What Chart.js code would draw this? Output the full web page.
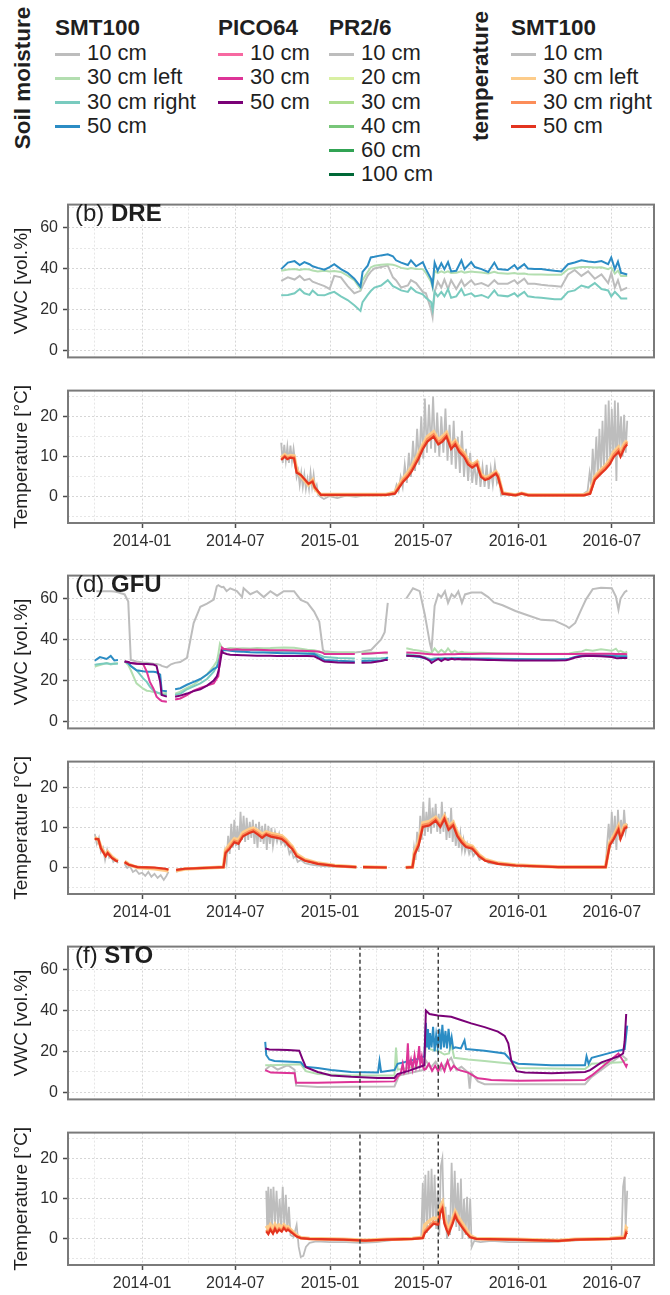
<!DOCTYPE html>
<html lang="en">
<head>
<meta charset="UTF-8">
<script src="https://cdn.jsdelivr.net/npm/chart.js"></script>
<title>Soil moisture and soil temperature</title>
<style>
  body { margin: 0; background: #fff; font-family: "Liberation Sans", Arial, Helvetica, sans-serif; }
  #fig { position: relative; width: 670px; height: 1295px; overflow: hidden; background: #fff; }
  #fig canvas { position: absolute; left: 0; }
  .txt { position: absolute; white-space: nowrap; color: #1f1f1f; }
  .key { position: absolute; width: 25px; height: 3px; }
  .rot { position: absolute; white-space: nowrap; font-weight: bold; font-size: 22.5px; line-height: 22px;
         color: #1f1f1f; transform: translate(-50%, -50%) rotate(-90deg); }
</style>
</head>
<body>
<div id="fig"></div>
<script>
// ---- colours ----
const colSmt = ['#bdbdbd', '#b3deb0', '#79cbbf', '#2b8cc4'];
const colPico = ['#f768a1', '#dd3497', '#7a0177'];
const colPr = ['#bdbdbd', '#d9f0a3', '#addd8e', '#78c679', '#31a354', '#006837'];
const colTemp = ['#bdbdbd', '#fdcc8a', '#fc8d59', '#e3341f'];

// ---- axis ticks ----
const xTickDates = ['2013-10-01', '2014-01-01', '2014-04-01', '2014-07-01', '2014-10-01', '2015-01-01',
  '2015-04-01', '2015-07-01', '2015-10-01', '2016-01-01', '2016-04-01', '2016-07-01'];
const vwcTicks = [0, 10, 20, 30, 40, 50, 60, 70];
const vwcLabelled = [0, 20, 40, 60];
const tempTicks = [-5, 0, 5, 10, 15, 20, 25];
const tempLabelled = [0, 10, 20];

// ---- (b) DRE, soil moisture ----
const dreDates = ['2014-09-28','2014-10-11','2014-10-24','2014-11-03','2014-11-12','2014-11-22','2014-11-28','2014-12-08','2014-12-21','2014-12-31',
  '2015-01-09','2015-01-22','2015-02-04','2015-02-17','2015-03-01','2015-03-05','2015-03-15','2015-03-21','2015-03-28','2015-04-10',
  '2015-04-23','2015-05-03','2015-05-09','2015-05-19','2015-06-01','2015-06-07','2015-06-17','2015-06-30','2015-07-06','2015-07-16',
  '2015-07-19','2015-07-23','2015-07-29','2015-08-05','2015-08-11','2015-08-18','2015-08-24','2015-09-03','2015-09-13','2015-09-19',
  '2015-10-02','2015-10-09','2015-10-22','2015-11-04','2015-11-16','2015-11-23','2015-12-12','2015-12-25','2015-12-31','2016-01-13',
  '2016-01-20','2016-02-02','2016-02-15','2016-02-28','2016-03-12','2016-03-25','2016-04-07','2016-04-20','2016-05-03','2016-05-16',
  '2016-05-29','2016-06-11','2016-06-24','2016-06-30','2016-07-07','2016-07-13','2016-07-19','2016-07-31'];
const dreSmt10 = [34,35.7,34.6,36.4,34.3,35,33.6,32.6,31.4,30, 36.4,35.7,31.4,27.9,29.1,31.4,36.4,38.5,40,40.7,
  41.4,35.7,34.3,30.7,31.7,34.3,32.9,28.6,27.9,20, 16.4,28.6,33.6,30.7,34.6,30,34.3,30,34.3,31.4,
  34.3,32.1,32.9,31.4,34.3,32.6,32.6,34.3,32.6,35, 32.6,32.6,32.1,31.7,31.4,31.1,37.1,39.3,36.4,38.6,
  35,37.1,32.9,37.9,30.7,34.3,29.3,30.7];
const dreSmt30L = [38.9,39.5,39.8,39.3,39.7,39.5,39,38.6,38.9,38.6, 38.8,38.3,36.5,34.3,30,34.3,38.3,40.5,41.4,41.8,
  42.1,41.8,41.4,40.3,39.8,40.2,39.8,39.7,37.9,33.5, 30.7,38.9,37.8,38.6,38,38.6,37.8,37.9,38.6,38,
  38.5,38.3,38,37.6,38.4,37.8,37.4,37.8,37.4,37.6, 37.2,37.1,37.1,37,36.9,36.9,39.7,40.2,40.7,40.7,
  40.5,40.6,39.7,40.5,37.5,39,36.4,36.4];
const dreSmt30R = [26.9,27.1,27.9,30,27.9,27.1,29.3,27.1,26.9,27.9, 28.6,26.4,24.6,22.1,19.3,23.6,27.1,29,30.7,31.7,
  34.3,31.4,30.7,29.3,28.6,30.7,28.6,27.4,25.7,23.6, 20,28.6,26.4,28.6,26.4,30,25.7,26.4,30,26.9,
  27.9,26.4,27.1,25.7,29.3,26.9,26.4,27.9,26.4,28.6, 26.4,26,25.7,25.4,25,25,28.6,29.3,31.7,30.7,
  32.9,30,29.3,26.4,28.6,27.1,25.4,25.4];
const dreSmt50 = [39.7,42.9,43.6,41.7,43.1,42.1,41.1,40.3,39.4,40.7, 42.1,39.7,37.9,35,31.1,38.3,41.4,45.4,45.7,46.4,
  46.9,46,44,42.9,41.7,44,41.1,43.1,39.7,35, 31.7,42.9,38.9,42.6,39.7,43.1,38.6,38.9,44,39.7,
  43.1,40.7,39.7,38.3,42.9,39.7,39.3,41.7,39.7,42.1, 40,39.7,39.7,39.3,38.9,38.6,42.1,42.9,44,43.4,
  43.1,43.6,42.1,45.4,39.7,43.4,37.9,37.1];

// ---- (b) DRE, soil temperature ----
const dreTempDates = ['2014-09-28','2014-10-05','2014-10-10','2014-10-16','2014-10-23','2014-10-28','2014-11-05','2014-11-12','2014-11-20','2014-11-28',
  '2014-12-02','2014-12-08','2014-12-14','2015-01-27','2015-03-10','2015-04-20','2015-05-07','2015-05-15','2015-05-23','2015-06-01',
  '2015-06-09','2015-06-22','2015-06-30','2015-07-09','2015-07-21','2015-07-30','2015-08-07','2015-08-15','2015-08-24','2015-09-01',
  '2015-09-09','2015-09-18','2015-09-26','2015-10-04','2015-10-13','2015-10-21','2015-10-29','2015-11-06','2015-11-19','2015-11-23',
  '2015-12-02','2015-12-27','2016-01-08','2016-01-21','2016-03-19','2016-05-08','2016-05-20','2016-05-29','2016-06-10','2016-06-19',
  '2016-06-27','2016-07-05','2016-07-14','2016-07-18','2016-07-26','2016-07-31'];
const dreT30L = [9.8,10.5,10,10.3,10.2,6.8,5.2,4.2,3,4.2, 2.2,1.2,0.6,0.6,0.6,0.6,1.2,3,4.6,6,
  7.6,10.8,13,15,16.2,14.2,15,16,13,14, 12.2,11,9,8,8.8,5.6,4.8,5.2,6.3,5.4,
  1,0.5,0.9,0.5,0.5,0.5,1.2,5,6.8,7.8, 9.2,11.2,12.4,11.2,13.4,14];
const dreT30R = [9.4,10.2,9.7,10,9.9,6.3,5.4,4.4,3.2,4, 2.4,1.4,0.5,0.5,0.5,0.5,1,2.6,4.2,5.5,
  7,10.2,12.4,14.4,15.6,13.6,14.4,15.5,12.4,13.6, 11.7,10.5,8.6,7.7,8.5,5.3,4.5,4.9,6,5.2,
  0.9,0.5,0.9,0.5,0.5,0.5,1,4.6,6.3,7.4, 8.6,10.6,11.8,10.6,12.8,13.6];
const dreT50 = [9.2,10,9.4,9.8,9.6,6,5.5,4.5,3.3,3.8, 2.5,1.5,0.5,0.5,0.5,0.5,0.8,2.3,3.8,5,
  6.5,9.6,11.9,13.8,15,13.1,13.8,15,11.9,13.1, 11.2,10,8.1,7.3,8.1,5,4.2,4.6,5.8,5,
  0.8,0.4,0.8,0.4,0.4,0.4,0.8,4.2,5.8,6.9, 8.1,10,11.2,10,12.3,13.1];
const dreT10 = [['2014-09-28',13.5],['2014-10-01',8.5],['2014-10-04',13],['2014-10-07',9],['2014-10-10',12.5],['2014-10-13',8.5],
  ['2014-10-16',12.8],['2014-10-19',9],['2014-10-22',12],['2014-10-25',8.8],['2014-10-28',5],['2014-10-31',6.5],['2014-11-03',3],
  ['2014-11-06',6],['2014-11-09',2.5],['2014-11-12',5.5],['2014-11-15',2],['2014-11-18',4.5],['2014-11-21',2],['2014-11-24',6],
  ['2014-11-27',2.5],['2014-11-30',5.5],['2014-12-03',2],['2014-12-06',3],['2014-12-09',0.5],['2014-12-14',0],['2014-12-20',-0.5],
  ['2014-12-30',0.2],['2015-01-15',-0.3],['2015-02-01',0.3],['2015-02-20',0],['2015-03-10',0.4],['2015-04-01',0.3],['2015-04-20',0.5],
  ['2015-05-05',0.6],['2015-05-10',3],['2015-05-14',1.5],['2015-05-18',5],['2015-05-22',2.5],['2015-05-26',8],['2015-05-30',3.5],
  ['2015-06-03',11],['2015-06-07',5],['2015-06-11',14],['2015-06-15',6.5],['2015-06-19',17],['2015-06-23',8],['2015-06-27',20],
  ['2015-07-01',9.5],['2015-07-04',24.5],['2015-07-08',11],['2015-07-12',23],['2015-07-16',12],['2015-07-20',25],['2015-07-24',11],
  ['2015-07-28',21],['2015-08-01',10],['2015-08-05',20],['2015-08-09',11],['2015-08-13',22],['2015-08-17',9],['2015-08-21',18],
  ['2015-08-25',8],['2015-08-29',19],['2015-09-02',7],['2015-09-06',15],['2015-09-10',6],['2015-09-14',16.5],['2015-09-18',5],
  ['2015-09-22',12],['2015-09-26',4],['2015-09-30',11],['2015-10-04',3.5],['2015-10-08',8.5],['2015-10-12',3],['2015-10-16',9],
  ['2015-10-20',2.5],['2015-10-24',7.5],['2015-10-28',2.5],['2015-11-01',8],['2015-11-05',2],['2015-11-09',7],['2015-11-13',3],
  ['2015-11-17',8],['2015-11-21',3.5],['2015-11-25',5],['2015-11-29',0.5],['2015-12-05',0.6],['2016-01-10',0.8],['2016-02-01',0.4],
  ['2016-03-15',0.5],['2016-05-05',0.6],['2016-05-15',1.5],['2016-05-19',6],['2016-05-22',3],['2016-05-25',12],['2016-05-28',4],
  ['2016-06-01',15],['2016-06-04',5],['2016-06-07',17],['2016-06-10',6],['2016-06-13',19],['2016-06-16',6.5],['2016-06-19',23],
  ['2016-06-22',8],['2016-06-25',24],['2016-06-28',9],['2016-07-01',22],['2016-07-04',9.5],['2016-07-07',24],['2016-07-10',4],
  ['2016-07-13',23.5],['2016-07-16',12],['2016-07-19',20],['2016-07-22',10],['2016-07-25',20.5],['2016-07-28',11],['2016-07-31',19]];

// ---- (d) GFU, soil moisture ----
const gfuDates = ['2013-10-01','2013-10-04','2013-10-11','2013-10-24','2013-11-01','2013-11-08','2013-11-15','2013-11-22','2013-11-28','2013-12-05',
  '2013-12-10','2013-12-21','2014-01-03','2014-01-10','2014-01-16','2014-01-23','2014-01-29','2014-02-05','2014-02-08','2014-02-18',
  '2014-02-26','2014-03-06','2014-03-16','2014-03-29','2014-04-11','2014-04-24','2014-05-07','2014-05-20','2014-05-26','2014-05-29',
  '2014-06-01','2014-06-05','2014-06-08','2014-06-14','2014-06-21','2014-07-04','2014-07-14','2014-07-17','2014-07-30','2014-08-12',
  '2014-08-25','2014-09-07','2014-09-20','2014-10-03','2014-10-23','2014-11-05','2014-11-18','2014-12-01','2014-12-11','2014-12-18',
  '2014-12-21','2015-01-16','2015-02-18','2015-02-22','2015-03-03','2015-03-22','2015-04-10','2015-04-17','2015-04-23','2015-05-06',
  '2015-05-29','2015-06-11','2015-06-24','2015-07-04','2015-07-14','2015-07-17','2015-07-23','2015-07-30','2015-08-05','2015-08-12',
  '2015-08-18','2015-08-25','2015-08-31','2015-09-07','2015-09-14','2015-09-20','2015-10-03','2015-10-22','2015-11-04','2015-11-15',
  '2015-12-02','2015-12-27','2016-01-21','2016-02-15','2016-03-11','2016-04-03','2016-04-09','2016-04-21','2016-05-04','2016-05-12',
  '2016-05-25','2016-06-10','2016-07-01','2016-07-09','2016-07-14','2016-07-18','2016-07-26','2016-07-31'];
const gfuSmt10 = [null,63.5,63.5,63.5,63.5,63.4,63,62.5,62,58.5, 30,29.3,28.8,28.6,28.4,28.2,28.1,27.6,27.1,26.4,
  27.9,28.6,29,31,48,56,57.5,59.5,66,66.5, 66,65.5,65.7,63.6,65,63.6,60.7,65,62.1,63.6,
  60.7,63.6,61.4,63.6,63.6,59.3,57.9,53.6,48.6,35, 34.3,33.6,33.6,33.8,34,35,40,43.6,57.9,null,
  60,65,63.6,52.1,37.9,35,56.4,62.1,60.7,63.6, 57.9,62.1,60.7,63.5,57.9,62,62.9,62.9,60.7,58.1,
  56.7,53.9,51.7,49.6,49.3,46.7,45.6,48.1,55.3,59.6, 64.6,65.3,65,61,54.6,60,63.1,64];
const gfuSmt30L = [26.7,27,27.5,28.5,27.8,28.2,28.6,null,29.3,27.5, 25,18.6,16,15,14.8,14.3,14,13.6,13.6,13.9,
  null,13.6,14.5,16.4,18,20.5,23,27,29.3,33, 37.9,36,35.3,35.5,35.8,35.6,35.7,35.7,35.6,35.8,
  35.7,35.8,36,36.1,36,35.5,35,34.7,34.2,33.8, 33.6,33.6,33.6,null,33.6,33.6,33.4,33.3,33.2,null,
  35.7,35,34.5,34,33.5,33.5,35.7,33.5,35,33.5, 35.7,33.5,34.5,33.5,34,33.6,33.5,33.5,33.4,33.3,
  33.2,33.1,33,33,33,33.1,33.2,33.8,34.2,35, 34.5,35.2,34.5,35.5,34,34.5,33.5,34];
const gfuSmt30R = [27.6,27.8,28,28.4,28,28.3,28.1,null,29.3,28.5, 27,25,21,19.3,17,15,14.3,13.6,12.9,13,
  null,12.9,13.5,15.7,17.1,18.6,20.7,24.3,27,29.3, 32,35.7,35.5,35.3,35,34.9,34.8,34.8,34.8,34.7,
  34.6,34.5,34.4,34.3,34.3,34.2,34,33.4,32.5,31.8, 31.4,31,30.7,null,30.7,30.7,30.8,31,31,null,
  32.9,32.5,32,31.4,30.5,30.5,30.8,31,31,31, 31,31,31,31,31,31,30.9,30.8,30.8,30.7,
  30.6,30.5,30.5,30.4,30.4,30.5,30.6,31.5,32,32.2, 32.3,32.3,32.3,32.2,32,32,32,32];
const gfuSmt50 = [29.6,30.2,31.4,30.5,32,29.8,30,null,29.3,28.5, 27.1,25,24.5,24.3,24.3,24.3,24,22.9,15,14.7,
  null,15.7,16.2,17.9,19.3,20.7,22.9,25.7,26.4,28, 30.7,35,34.8,34.7,34.5,34.2,34,34,33.8,33.7,
  33.6,33.5,33.4,33.3,33.3,33.2,33,32.9,31.4,30.5, 30,29.6,29.3,null,29.5,29.6,29.6,30,31.4,null,
  32.1,31.8,31.4,30.8,30,30,30.3,30.5,30.5,30.6, 30.6,30.7,30.7,30.7,30.7,30.7,30.6,30.5,30.5,30.4,
  30.4,30.3,30.2,30.2,30.2,30.3,30.5,31.5,32.2,32.4, 32.4,32.2,32,31.8,31.7,31.7,31.7,31.7];
const gfuPico30 = [null,null,null,null,null,null,null,null,29.3,29, 28.5,28.3,28,24.3,19.3,16,12.1,10.5,10,9.6,
  null,10.7,11.2,12.9,15,16.4,17.5,18.6,21,22.1, 30.7,36.1,35.5,35.2,35,35.2,35,35,35,35,
  34.9,34.8,34.8,34.7,34.6,34.5,34.4,34.3,34,33.5, 32.9,32.9,32.9,null,32.9,33.2,33.5,33.6,33.6,null,
  33.6,33.5,33.3,33,32.8,32.8,32.7,32.7,32.7,32.8, 32.8,32.8,32.8,32.9,32.9,32.9,32.9,33,33,33,
  33,33,32.9,32.9,32.9,32.9,32.9,32.9,33,33, 33,33,33,32.9,32.9,32.9,32.9,32.8];
const gfuPico50 = [null,null,null,null,null,null,null,null,29.3,29, 28.5,28.2,28,28,27.9,27.8,27.1,19.3,12.9,12.1,
  null,12.1,12.6,13.6,14.8,15.7,17.5,20,22,24.3, 28,34.3,33.5,32.9,32.6,32.4,32.3,32.3,32.2,32.1,
  32.1,32.1,32,32,32,32,31.9,31.8,30.5,29.6, 29.3,28.8,28.6,null,28.6,28.8,29.5,30,30,null,
  32.1,32,31.8,31,29.5,28.6,29.5,30.5,29.5,30.5, 30,30.6,30.3,30.5,30.2,30.3,30.2,30.1,30,30,
  29.9,29.8,29.8,29.8,29.8,29.9,30.2,31.2,31.8,32, 32,31.8,31.5,31,30.8,31,31,31];

// ---- (d) GFU, soil temperature ----
const gfuTempDates = ['2013-10-01','2013-10-08','2013-10-13','2013-10-22','2013-10-26','2013-11-03','2013-11-11','2013-11-15','2013-11-21','2013-11-28',
  '2013-12-06','2013-12-23','2014-01-25','2014-02-15','2014-02-21','2014-03-01','2014-03-08','2014-03-25','2014-05-22','2014-06-08',
  '2014-06-12','2014-06-20','2014-06-29','2014-07-07','2014-07-16','2014-07-28','2014-08-05','2014-08-14','2014-08-22','2014-08-30',
  '2014-09-08','2014-09-20','2014-09-29','2014-10-07','2014-10-15','2014-10-19','2014-10-28','2014-11-13','2014-12-08','2015-01-10',
  '2015-02-21','2015-02-25','2015-03-06','2015-04-21','2015-05-10','2015-05-28','2015-06-10','2015-06-14','2015-06-22','2015-06-30',
  '2015-07-13','2015-07-25','2015-08-03','2015-08-11','2015-08-19','2015-08-28','2015-09-05','2015-09-13','2015-09-22','2015-10-04',
  '2015-10-17','2015-10-29','2015-11-23','2015-12-27','2016-03-19','2016-06-19','2016-06-27','2016-07-05','2016-07-14','2016-07-18',
  '2016-07-26','2016-07-31'];
const gfuT30L = [7.6,7,5.2,3.2,4,2.8,2,1.8,null,1.6, 0.9,0.1,-0.2,-0.6,-0.8,null,-0.7,-0.3,0.1,0.2,
  4.4,5.8,7.2,7,8.8,9.6,9.9,9.2,8.4,9, 8.6,8.3,8,7.1,5.9,5.4,3.4,2.1,1.2,0.6,
  0.2,null,0.2,0.1,null,0.1,0.2,4,6.5,11.2, 11.6,12.6,11.2,12.9,10.4,11.4,8.7,7.2,5.9,5.4,
  3.3,2.1,1.2,0.7,0.2,0.2,6.3,8,10.4,8, 10.6,10.8];
const gfuT30R = [7.4,7.1,5,3,3.8,2.6,1.9,1.7,null,1.5, 0.8,0.2,0,-0.3,-0.5,null,-0.6,-0.2,0.1,0.2,
  4,5.2,6.8,6.5,8.3,9.1,9.5,8.7,7.9,8.6, 8.2,7.9,7.6,6.8,5.5,5.1,3.1,1.9,1.1,0.5,
  0.2,null,0.2,0.1,null,0.1,0.2,3.6,6,10.7, 11.1,12.2,10.7,12.6,10,11,8.3,6.8,5.5,5.1,
  3.1,1.9,1.1,0.6,0.2,0.2,6,7.6,10,7.6, 10.2,10.5];
const gfuT50 = [7.2,7.2,4.8,2.9,3.7,2.5,1.8,1.6,null,1.4, 0.8,0.2,0.1,-0.2,-0.4,null,-0.5,-0.2,0.1,0.2,
  3.7,4.8,6.4,6,7.9,8.7,9.1,8.3,7.5,8.3, 7.8,7.5,7.2,6.4,5.2,4.8,2.9,1.8,1,0.5,
  0.2,null,0.2,0.1,null,0.1,0.2,3.3,5.6,10.2, 10.6,11.8,10.2,12.2,9.5,10.6,7.9,6.4,5.2,4.8,
  2.9,1.8,1,0.6,0.2,0.2,5.6,7.2,9.5,7.2, 9.8,10.2];
const gfuT10 = [['2013-10-01',8.5],['2013-10-05',6],['2013-10-09',7.5],['2013-10-13',4],['2013-10-17',5],['2013-10-21',2],
  ['2013-10-25',4.5],['2013-10-29',2.5],['2013-11-02',3],['2013-11-06',1.5],['2013-11-10',2],['2013-11-15',1.2],['2013-11-21',null],
  ['2013-11-28',1],['2013-12-03',0],['2013-12-08',0.5],['2013-12-14',-1],['2013-12-20',-0.5],['2013-12-26',-1.5],['2014-01-01',-1.2],
  ['2014-01-07',-2],['2014-01-13',-1],['2014-01-19',-2.2],['2014-01-25',-1.5],['2014-01-31',-2.5],['2014-02-06',-1.8],['2014-02-12',-3],
  ['2014-02-17',-2],['2014-02-21',-1],['2014-03-01',null],['2014-03-08',-1],['2014-03-15',-0.5],['2014-03-25',-0.3],['2014-04-15',0],
  ['2014-05-01',0.1],['2014-05-22',0.1],['2014-06-08',0.2],['2014-06-11',4],['2014-06-14',1.5],['2014-06-17',8],['2014-06-20',3.5],
  ['2014-06-23',11],['2014-06-26',5],['2014-06-29',12],['2014-07-02',5.5],['2014-07-05',10.5],['2014-07-08',4.5],['2014-07-11',14],
  ['2014-07-14',7],['2014-07-17',13],['2014-07-20',6.5],['2014-07-23',12.5],['2014-07-26',7],['2014-07-29',11.5],['2014-08-01',7.5],
  ['2014-08-04',12],['2014-08-07',6],['2014-08-10',11],['2014-08-13',5],['2014-08-16',11.5],['2014-08-19',6.5],['2014-08-22',10.5],
  ['2014-08-25',6],['2014-08-28',11],['2014-08-31',4.5],['2014-09-03',10.5],['2014-09-06',6],['2014-09-09',10],['2014-09-12',5.5],
  ['2014-09-16',9],['2014-09-20',6.5],['2014-09-24',8.5],['2014-09-28',6],['2014-10-02',7],['2014-10-06',5.5],['2014-10-10',6],
  ['2014-10-14',3.5],['2014-10-18',4.5],['2014-10-22',2.5],['2014-10-26',3],['2014-10-30',1.5],['2014-11-05',2],['2014-11-13',1.2],
  ['2014-11-25',0.8],['2014-12-08',0.6],['2014-12-25',0.4],['2015-01-10',0.3],['2015-02-21',0.1],['2015-02-25',null],['2015-03-06',0.1],
  ['2015-04-21',0.1],['2015-05-10',null],['2015-05-28',0.2],['2015-06-10',0.3],['2015-06-13',5],['2015-06-16',2],['2015-06-19',9],
  ['2015-06-22',4],['2015-06-25',13],['2015-06-28',7],['2015-07-01',16.5],['2015-07-04',8],['2015-07-07',14],['2015-07-10',9],
  ['2015-07-13',17.5],['2015-07-16',8.5],['2015-07-19',15],['2015-07-22',10],['2015-07-25',16],['2015-07-28',9],['2015-07-31',13.5],
  ['2015-08-03',8.5],['2015-08-06',16.5],['2015-08-09',9],['2015-08-12',14],['2015-08-15',7],['2015-08-18',12.5],['2015-08-21',7.5],
  ['2015-08-24',15],['2015-08-27',6.5],['2015-08-30',11],['2015-09-02',5.5],['2015-09-05',9.5],['2015-09-08',5],['2015-09-11',8.5],
  ['2015-09-14',4.5],['2015-09-17',7],['2015-09-20',4],['2015-09-24',6],['2015-09-28',3.5],['2015-10-02',5],['2015-10-06',3],
  ['2015-10-12',4],['2015-10-18',2],['2015-10-25',2.5],['2015-11-05',1.2],['2015-11-20',1],['2015-12-10',0.6],['2016-01-10',0.4],
  ['2016-02-15',0.2],['2016-04-01',0.2],['2016-06-19',0.3],['2016-06-22',6],['2016-06-25',11],['2016-06-28',5],['2016-07-01',14],
  ['2016-07-04',6],['2016-07-07',13],['2016-07-10',4.5],['2016-07-13',14.5],['2016-07-16',7],['2016-07-19',12],['2016-07-22',8],
  ['2016-07-25',14.5],['2016-07-28',9],['2016-07-31',11]];

// ---- (f) STO, soil moisture ----
const stoSmt10 = [['2014-08-28',11.1],['2014-09-08',13.3],['2014-09-21',11.1],['2014-10-11',13.3],['2014-10-24',11.1],['2014-10-27',3.3],
  ['2014-12-08',2.6],['2015-05-06',2.9],['2015-05-15',8.3],['2015-07-03',11.1],['2015-07-05',16],['2015-07-15',12],['2015-07-25',15],
  ['2015-08-04',11],['2015-08-14',14],['2015-08-24',16.9],['2015-09-03',11],['2015-09-13',12.5],['2015-09-26',9.7],['2015-09-29',1.9],
  ['2015-10-02',9.7],['2015-10-15',5.4],['2015-10-28',4],['2016-05-10',4],['2016-05-23',7.6],['2016-07-20',18.3],['2016-07-31',16]];
const stoSmt30L = [['2014-08-28',13.3],['2014-09-08',13.3],['2014-11-05',13.7],['2014-11-15',10.4],['2014-12-08',9],['2015-02-11',8.3],
  ['2015-05-06',8.3],['2015-05-09',21.9],['2015-05-12',11.1],['2015-06-01',11.9],['2015-07-03',12.9],['2015-07-06',24],['2015-07-15',21],
  ['2015-07-29',20.4],['2015-08-11',18.5],['2015-08-20',19],['2015-08-24',24],['2015-08-30',16.9],['2015-09-26',16.1],['2015-10-28',15.4],
  ['2015-12-19',14],['2016-01-01',11.9],['2016-05-10',11.4],['2016-05-23',14],['2016-07-20',14.7],['2016-07-31',16.1]];
const stoSmt50 = [['2014-08-28',24.7],['2014-08-30',18.3],['2014-09-05',16.1],['2014-09-15',15.4],['2014-11-05',14.7],['2014-11-12',12.6],
  ['2014-12-08',11.9],['2015-01-03',10.9],['2015-02-11',10],['2015-04-04',9.7],['2015-04-07',15.4],['2015-04-10',10],['2015-05-06',10.9],
  ['2015-05-12',14],['2015-05-25',14.7],['2015-06-01',15.4],['2015-06-17',16.1],['2015-07-03',17.6],['2015-07-06',34],['2015-07-08',22],
  ['2015-07-10',31],['2015-07-12',21],['2015-07-14',29],['2015-07-17',22],['2015-07-20',32],['2015-07-23',20],['2015-07-26',28],
  ['2015-07-29',22],['2015-08-01',31],['2015-08-04',21],['2015-08-07',33],['2015-08-10',22],['2015-08-13',30],['2015-08-16',21.5],
  ['2015-08-19',31],['2015-08-22',23],['2015-08-25',27],['2015-08-28',21.5],['2015-09-01',22],['2015-09-12',21.5],['2015-09-19',25.4],
  ['2015-09-22',21.2],['2015-10-28',20.4],['2015-12-06',19],['2015-12-19',15.4],['2016-01-01',14],['2016-03-06',13.3],['2016-05-10',13.3],
  ['2016-05-13',17.6],['2016-05-17',14],['2016-05-23',16.9],['2016-07-14',20.4],['2016-07-26',21.1],['2016-07-31',32.6]];
const stoPico30 = [['2014-08-28',10.9],['2014-09-08',9.7],['2014-10-24',9.4],['2014-10-27',4.7],['2014-12-08',4.7],['2015-02-11',5.1],
  ['2015-05-06',5.4],['2015-05-12',7.6],['2015-05-18',9],['2015-05-22',14],['2015-05-25',9.5],['2015-05-29',11],['2015-06-01',24],
  ['2015-06-03',12],['2015-06-07',16],['2015-06-10',11.5],['2015-06-14',18],['2015-06-17',12.5],['2015-06-20',16],['2015-06-23',22.6],
  ['2015-06-25',14],['2015-06-28',17.5],['2015-07-01',12],['2015-07-03',11.1],['2015-07-06',11.5],['2015-07-12',14],['2015-07-18',10.5],
  ['2015-07-24',13],['2015-07-30',10.4],['2015-08-05',14],['2015-08-11',10.5],['2015-08-17',15.4],['2015-08-23',11],['2015-08-29',13],
  ['2015-09-06',11.1],['2015-09-26',9.7],['2015-10-15',6.9],['2015-10-28',6.6],['2015-11-10',6.1],['2016-01-01',5.7],['2016-05-10',6.1],
  ['2016-05-23',8.3],['2016-07-14',19],['2016-07-23',15.4],['2016-07-29',12.6],['2016-07-31',14]];
const stoPico50 = [['2014-08-28',21.4],['2014-09-05',21],['2014-10-11',20.7],['2014-11-02',20.4],['2014-11-08',16.5],['2014-11-15',12.3],
  ['2014-12-08',10],['2015-01-03',8.3],['2015-02-11',7.6],['2015-04-04',7.1],['2015-05-06',7.1],['2015-05-12',9],['2015-06-01',10.4],
  ['2015-07-03',13.3],['2015-07-06',40],['2015-07-13',38.3],['2015-07-29',37.6],['2015-08-24',36.9],['2015-09-12',35.4],['2015-10-02',33.7],
  ['2015-10-28',31.9],['2015-11-23',29.7],['2015-12-06',27.6],['2015-12-13',24],['2015-12-19',15.4],['2015-12-29',10.4],['2016-01-14',9.7],
  ['2016-03-06',9.4],['2016-05-10',10],['2016-05-20',10.9],['2016-06-11',14.7],['2016-07-14',17.6],['2016-07-23',19],['2016-07-26',25],
  ['2016-07-29',38.3]];
const stoMarkerDates = ['2015-02-28', '2015-07-30'];

// ---- (f) STO, soil temperature ----
const stoTempDates = ['2014-08-30','2014-09-03','2014-09-07','2014-09-12','2014-09-16','2014-09-20','2014-09-24','2014-09-29','2014-10-03','2014-10-08',
  '2014-10-11','2014-10-19','2014-10-28','2014-11-05','2014-11-22','2015-01-27','2015-03-10','2015-04-21','2015-06-10','2015-06-30',
  '2015-07-04','2015-07-13','2015-07-21','2015-07-30','2015-08-03','2015-08-07','2015-08-11','2015-08-15','2015-08-19','2015-08-27',
  '2015-09-01','2015-09-05','2015-09-13','2015-09-22','2015-09-30','2015-10-12','2015-12-27','2016-03-19','2016-04-21','2016-06-27',
  '2016-07-26','2016-07-29','2016-07-31'];
const stoT30L = [3.3,2.5,3.5,2.6,3.6,2.8,3.4,2.9,3.5,2.8, 3,2,0.9,0.3,0.1,-0.1,-0.3,-0.1,0.1,0.4,
  3.5,4.5,5.2,5,8,9,5.2,3.5,2.4,5, 6.8,5.8,4.2,2.4,0.8,0.1,-0.1,-0.4,-0.1,0.1, 0.5,2.8,2.5];
const stoT30R = [2.2,1.5,2.6,1.6,2.8,1.9,2.6,2.1,3,2.3, 2.6,1.7,0.7,0.2,0,-0.2,-0.4,-0.2,0,0.3,
  2,3.2,4.3,4,7,8,4.3,2.8,1.6,4.3, 6.2,5,3.5,1.8,0.5,0,-0.2,-0.5,-0.2,0, 0.3,1.9,1.6];
const stoT50 = [1.9,1.2,2.3,1.3,2.5,1.6,2.3,1.8,2.7,2, 2.3,1.5,0.6,0.2,0,-0.2,-0.4,-0.2,0,0.2,
  1.5,2.7,3.8,3.5,6.5,7.5,3.8,2.3,1.2,3.8, 5.8,4.6,3.1,1.5,0.4,0,-0.2,-0.5,-0.2,0, 0.2,1.5,1.2];
const stoT10 = [['2014-08-30',12],['2014-09-01',2],['2014-09-03',13],['2014-09-05',3],['2014-09-08',12.5],['2014-09-10',2],
  ['2014-09-13',13],['2014-09-16',4],['2014-09-19',12],['2014-09-22',3],['2014-09-25',10],['2014-09-28',2.5],['2014-10-01',13],
  ['2014-10-04',3],['2014-10-07',11],['2014-10-10',2],['2014-10-13',8],['2014-10-16',1],['2014-10-22',0.5],['2014-10-28',3.5],
  ['2014-11-01',-2],['2014-11-05',-4.5],['2014-11-10',-4.2],['2014-11-15',-2],['2014-11-22',-1],['2014-12-05',-0.6],['2015-01-01',-0.8],
  ['2015-02-01',-0.8],['2015-03-01',-1],['2015-04-01',-0.8],['2015-05-01',-0.3],['2015-06-01',0],['2015-06-27',0.2],['2015-06-30',14],
  ['2015-07-02',2],['2015-07-05',16],['2015-07-08',1.5],['2015-07-11',17],['2015-07-14',3],['2015-07-17',17.5],['2015-07-20',4],
  ['2015-07-23',16],['2015-07-26',2.5],['2015-07-29',12],['2015-08-01',1],['2015-08-04',18],['2015-08-07',20],['2015-08-10',4],
  ['2015-08-13',8],['2015-08-16',0],['2015-08-19',6],['2015-08-22',1],['2015-08-25',19],['2015-08-28',4],['2015-08-31',17],
  ['2015-09-03',3],['2015-09-06',14],['2015-09-09',2],['2015-09-12',15],['2015-09-15',0],['2015-09-18',10],['2015-09-21',1],
  ['2015-09-24',10.5],['2015-09-27',0],['2015-09-30',10],['2015-10-03',-2],['2015-10-08',-0.5],['2015-10-20',-0.8],['2015-11-10',-0.5],
  ['2015-12-15',-0.8],['2016-01-20',-0.8],['2016-03-01',-0.8],['2016-04-10',-0.5],['2016-05-15',-0.2],['2016-06-20',0],['2016-07-20',0.2],
  ['2016-07-23',13],['2016-07-26',15.5],['2016-07-28',3],['2016-07-31',12]];

// ---- legend ----
const moistureGroups = [
  { name: 'SMT100', left: 55, items: ['10 cm', '30 cm left', '30 cm right', '50 cm'], colors: colSmt },
  { name: 'PICO64', left: 218, items: ['10 cm', '30 cm', '50 cm'], colors: colPico },
  { name: 'PR2/6', left: 329, items: ['10 cm', '20 cm', '30 cm', '40 cm', '60 cm', '100 cm'], colors: colPr }
];
const temperatureGroups = [
  { name: 'SMT100', left: 511, items: ['10 cm', '30 cm left', '30 cm right', '50 cm'], colors: colTemp }
];

// ---------------------------------------------------------------------------
const FONT = '"Liberation Sans", Arial, Helvetica, sans-serif';
const fig = document.getElementById('fig');
const T0 = Date.UTC(2014, 0, 1);
const dayOf = s => { const p = s.split('-').map(Number); return (Date.UTC(p[0], p[1] - 1, p[2]) - T0) / 86400000; };
const fromCols = (dates, vals) => dates.map((d, i) => ({ x: dayOf(d), y: vals[i] }));
const fromPairs = list => list.map(([d, v]) => ({ x: dayOf(d), y: v }));

const xMin = dayOf('2013-08-10');
const xMax = dayOf('2016-09-21');
const xTickDays = xTickDates.map(dayOf);
const xLabelOf = {};
xTickDates.forEach(d => {
  const m = d.slice(5, 7);
  xLabelOf[dayOf(d)] = (m === '01' || m === '07') ? d.slice(0, 7) : '';
});

function addText(html, left, top, size, bold) {
  const el = document.createElement('div');
  el.className = 'txt';
  el.style.left = left + 'px';
  el.style.top = top + 'px';
  el.style.fontSize = size + 'px';
  el.style.lineHeight = size + 'px';
  if (bold) el.style.fontWeight = 'bold';
  el.innerHTML = html;
  fig.appendChild(el);
}

function addRotated(text, cx, cy) {
  const el = document.createElement('div');
  el.className = 'rot';
  el.style.left = cx + 'px';
  el.style.top = cy + 'px';
  el.textContent = text;
  fig.appendChild(el);
}

function drawLegend(groups) {
  groups.forEach(g => {
    addText(g.name, g.left, 27.5 - 11, 22.5, true);
    g.items.forEach((label, i) => {
      const cy = 53 + 24.1 * i;
      const key = document.createElement('div');
      key.className = 'key';
      key.style.left = g.left + 'px';
      key.style.top = (cy - 0.5) + 'px';
      key.style.background = g.colors[i];
      fig.appendChild(key);
      addText(label, g.left + 32, cy - 10.7, 22, false);
    });
  });
}

addRotated('Soil moisture', 23, 78);
addRotated('temperature', 481, 76);
drawLegend(moistureGroups);
drawLegend(temperatureGroups);

// panel frame drawn on top of the data
const frame = {
  id: 'frame',
  afterDraw(chart) {
    const { ctx, chartArea: a } = chart;
    ctx.save();
    ctx.strokeStyle = '#7a7a7a';
    ctx.lineWidth = 2;
    ctx.strokeRect(a.left, a.top, a.right - a.left, a.bottom - a.top);
    ctx.restore();
  }
};

function panel({ top, plotH, bottomAxis, yMin, yMax, yTicks, yMajor, title, series }) {
  const padTop = 4;
  const axisH = bottomAxis ? 30 : 0;
  const padBottom = bottomAxis ? 0 : 4;
  const cv = document.createElement('canvas');
  cv.width = 670;
  cv.height = padTop + plotH + axisH + padBottom;
  cv.style.top = (top - padTop) + 'px';
  fig.appendChild(cv);

  const majorX = v => !!xLabelOf[v];
  const majorY = v => yMajor.includes(v);
  const tickFont = { family: FONT, size: 16 };

  new Chart(cv, {
    type: 'line',
    data: {
      datasets: series.map((s, i) => ({
        data: s.data,
        borderColor: s.color,
        borderWidth: s.width || 2,
        borderDash: s.dash || [],
        pointRadius: 0,
        tension: 0,
        fill: false,
        order: series.length - i
      }))
    },
    options: {
      responsive: false,
      animation: false,
      events: [],
      layout: { padding: { top: padTop, bottom: padBottom, left: 0, right: 16 }, autoPadding: false },
      plugins: { legend: { display: false }, tooltip: { enabled: false } },
      scales: {
        x: {
          type: 'linear', min: xMin, max: xMax,
          afterBuildTicks: sc => { sc.ticks = xTickDays.map(v => ({ value: v })); },
          afterFit: sc => { sc.height = axisH; },
          grid: {
            color: c => (c.tick && majorX(c.tick.value)) ? '#d6d6d6' : '#e6e6e6',
            tickColor: c => (c.tick && majorX(c.tick.value)) ? '#4a4a4a' : 'rgba(0,0,0,0)',
            drawTicks: bottomAxis, tickLength: 5, tickWidth: 1.5
          },
          border: { display: false, dash: [2, 2] },
          ticks: {
            display: bottomAxis, autoSkip: false, maxRotation: 0, padding: 4,
            font: tickFont, color: '#2e2e2e',
            callback: v => xLabelOf[v] || ''
          }
        },
        y: {
          type: 'linear', min: yMin, max: yMax,
          afterBuildTicks: sc => { sc.ticks = yTicks.map(v => ({ value: v })); },
          afterFit: sc => { sc.width = 68; },
          grid: {
            color: c => (c.tick && majorY(c.tick.value)) ? '#d6d6d6' : '#e6e6e6',
            tickColor: c => (c.tick && majorY(c.tick.value)) ? '#4a4a4a' : 'rgba(0,0,0,0)',
            drawTicks: true, tickLength: 5, tickWidth: 1.5
          },
          border: { display: false, dash: [2, 2] },
          ticks: {
            autoSkip: false, padding: 5, font: tickFont, color: '#2e2e2e',
            callback: v => majorY(v) ? String(v) : ''
          },
          title: {
            display: true, text: title, color: '#1f1f1f',
            font: { family: FONT, size: 19 }, padding: { top: 10, bottom: 0 }
          }
        }
      }
    },
    plugins: [frame]
  });
}

function vwcPanel(top, series) {
  panel({ top, plotH: 174, bottomAxis: false, yMin: -3.4, yMax: 71.2, yTicks: vwcTicks, yMajor: vwcLabelled,
    title: 'VWC [vol.%]', series });
}
function tempPanel(top, series) {
  panel({ top, plotH: 143, bottomAxis: true, yMin: -6.5, yMax: 26.5, yTicks: tempTicks, yMajor: tempLabelled,
    title: 'Temperature [°C]', series });
}
const markerLines = stoMarkerDates.map(d => ({
  data: [{ x: dayOf(d), y: -50 }, { x: dayOf(d), y: 100 }], color: '#333', width: 1.4, dash: [4, 3]
}));

// (b) DRE
vwcPanel(194, [
  { data: fromCols(dreDates, dreSmt10), color: colSmt[0] },
  { data: fromCols(dreDates, dreSmt30L), color: colSmt[1] },
  { data: fromCols(dreDates, dreSmt30R), color: colSmt[2] },
  { data: fromCols(dreDates, dreSmt50), color: colSmt[3] }
]);
tempPanel(380, [
  { data: fromPairs(dreT10), color: colTemp[0], width: 1.8 },
  { data: fromCols(dreTempDates, dreT30L), color: colTemp[1], width: 3.5 },
  { data: fromCols(dreTempDates, dreT30R), color: colTemp[2], width: 2.5 },
  { data: fromCols(dreTempDates, dreT50), color: colTemp[3], width: 2.2 }
]);

// (d) GFU
vwcPanel(565, [
  { data: fromCols(gfuDates, gfuSmt10), color: colSmt[0] },
  { data: fromCols(gfuDates, gfuSmt30L), color: colSmt[1] },
  { data: fromCols(gfuDates, gfuSmt30R), color: colSmt[2] },
  { data: fromCols(gfuDates, gfuSmt50), color: colSmt[3] },
  { data: fromCols(gfuDates, gfuPico30), color: colPico[1] },
  { data: fromCols(gfuDates, gfuPico50), color: colPico[2] }
]);
tempPanel(751, [
  { data: fromPairs(gfuT10), color: colTemp[0], width: 1.8 },
  { data: fromCols(gfuTempDates, gfuT30L), color: colTemp[1], width: 3.5 },
  { data: fromCols(gfuTempDates, gfuT30R), color: colTemp[2], width: 2.5 },
  { data: fromCols(gfuTempDates, gfuT50), color: colTemp[3], width: 2.2 }
]);

// (f) STO
vwcPanel(936, [
  { data: fromPairs(stoSmt10), color: colSmt[0] },
  { data: fromPairs(stoSmt30L), color: colSmt[1] },
  { data: fromPairs(stoSmt50), color: colSmt[3] },
  { data: fromPairs(stoPico30), color: colPico[1] },
  { data: fromPairs(stoPico50), color: colPico[2] },
  ...markerLines
]);
tempPanel(1122, [
  { data: fromPairs(stoT10), color: colTemp[0], width: 1.8 },
  { data: fromCols(stoTempDates, stoT30L), color: colTemp[1], width: 3.5 },
  { data: fromCols(stoTempDates, stoT30R), color: colTemp[2], width: 2.5 },
  { data: fromCols(stoTempDates, stoT50), color: colTemp[3], width: 2.2 },
  ...markerLines
]);

// panel captions
[[194, '(b) ', 'DRE'], [565, '(d) ', 'GFU'], [936, '(f) ', 'STO']].forEach(([top, tag, site]) => {
  addText(tag + '<b>' + site + '</b>', 75, top + 7, 24, false);
});
</script>
</body>
</html>
